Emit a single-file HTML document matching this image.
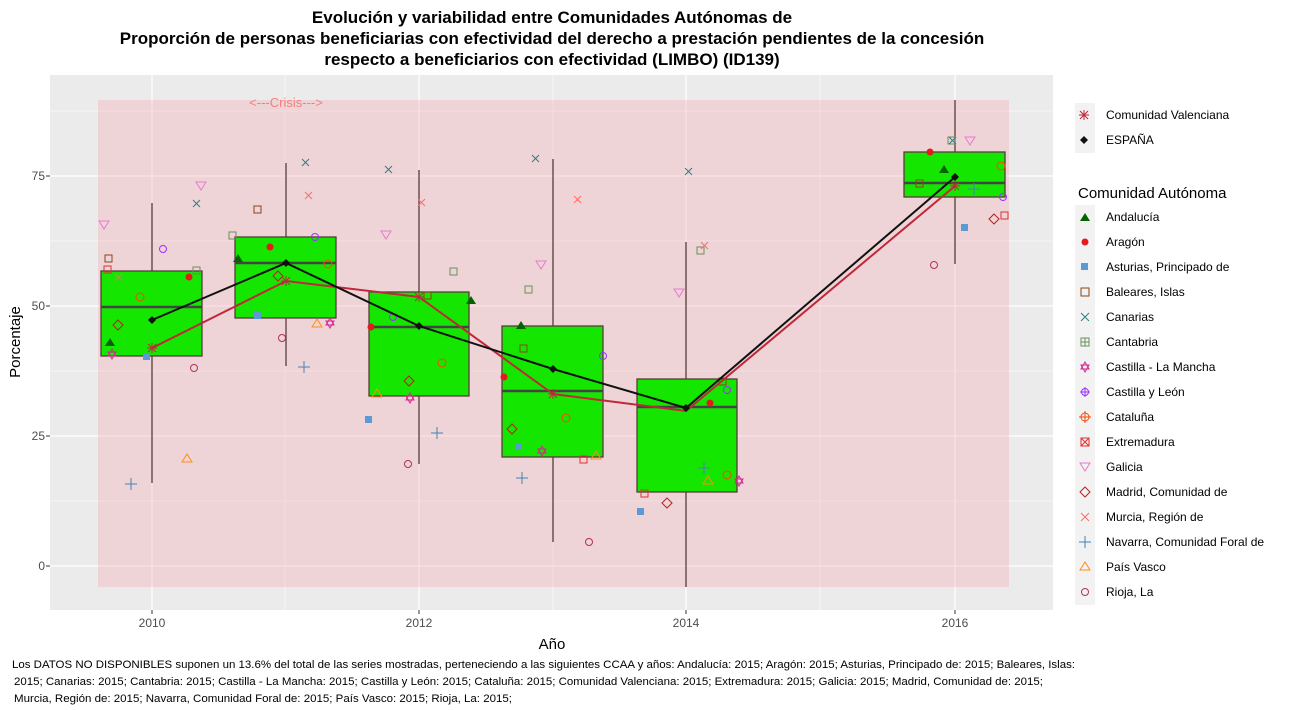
<!DOCTYPE html>
<html><head><meta charset="utf-8"><style>body{margin:0;background:#fff}svg{display:block;font-family:"Liberation Sans",Arial,sans-serif}</style></head><body>
<svg width="1299" height="710" viewBox="0 0 1299 710" xmlns="http://www.w3.org/2000/svg">
<rect width="1299" height="710" fill="#fff"/>
<g font-weight="bold" font-size="17" text-anchor="middle" fill="#000">
<text x="552" y="23">Evolución y variabilidad entre Comunidades Autónomas de</text>
<text x="552" y="44">Proporción de personas beneficiarias con efectividad del derecho a prestación pendientes de la concesión</text>
<text x="552" y="65">respecto a beneficiarios con efectividad (LIMBO) (ID139)</text>
</g>
<rect x="50" y="75" width="1003" height="535" fill="#ebebeb"/>
<g stroke="#fff" stroke-width="0.6">
<line x1="50" x2="1053" y1="501" y2="501"/><line x1="50" x2="1053" y1="371" y2="371"/><line x1="50" x2="1053" y1="241" y2="241"/><line x1="50" x2="1053" y1="111" y2="111"/>
<line y1="75" y2="610" x1="285" x2="285"/><line y1="75" y2="610" x1="553" x2="553"/><line y1="75" y2="610" x1="820" x2="820"/>
</g>
<g stroke="#fff" stroke-width="1.2">
<line x1="50" x2="1053" y1="566" y2="566"/><line x1="50" x2="1053" y1="436" y2="436"/><line x1="50" x2="1053" y1="306" y2="306"/><line x1="50" x2="1053" y1="176" y2="176"/>
<line y1="75" y2="610" x1="152" x2="152"/><line y1="75" y2="610" x1="419" x2="419"/><line y1="75" y2="610" x1="686" x2="686"/><line y1="75" y2="610" x1="955" x2="955"/>
</g>
<rect x="98" y="100" width="911" height="487" fill="#f4a0a8" fill-opacity="0.3"/>
<text x="286" y="107" font-size="13" fill="#f08080" text-anchor="middle">&lt;---Crisis---&gt;</text>
<g stroke="#5a3a3a" stroke-width="1.3">
<line x1="152" x2="152" y1="203" y2="483"/><line x1="286" x2="286" y1="163" y2="366"/>
<line x1="419" x2="419" y1="170" y2="464"/><line x1="553" x2="553" y1="159" y2="542"/>
<line x1="686" x2="686" y1="242" y2="587"/><line x1="955" x2="955" y1="100" y2="264"/>
</g>
<g fill="#15e600" stroke="#5a3a3a" stroke-width="1.3">
<rect x="101" y="271" width="101" height="85"/><rect x="235" y="237" width="101" height="81"/>
<rect x="369" y="292" width="100" height="104"/><rect x="502" y="326" width="101" height="131"/>
<rect x="637" y="379" width="100" height="113"/><rect x="904" y="152" width="101" height="45"/>
</g>
<g stroke="#444" stroke-width="2.5">
<line x1="101" x2="202" y1="307" y2="307"/><line x1="235" x2="336" y1="263" y2="263"/>
<line x1="369" x2="469" y1="327" y2="327"/><line x1="502" x2="603" y1="391" y2="391"/>
<line x1="637" x2="737" y1="407" y2="407"/><line x1="904" x2="1005" y1="183" y2="183"/>
</g>
<g fill="#006400"><path d="M110 338l-5 8h10z"/><path d="M238 254l-5 8h10z"/><path d="M471 296l-5 8h10z"/><path d="M521 321l-5 8h10z"/><path d="M944 165l-5 8h10z"/></g>
<g fill="#e41a1c"><circle cx="189" cy="277" r="3.5"/><circle cx="270" cy="247" r="3.5"/><circle cx="371" cy="327" r="3.5"/><circle cx="504" cy="377" r="3.5"/><circle cx="710" cy="403" r="3.5"/><circle cx="930" cy="152" r="3.5"/></g>
<g fill="#5b9bd5"><rect x="143" y="353" width="7" height="7"/><rect x="254" y="312" width="7" height="7"/><rect x="365" y="416" width="7" height="7"/><rect x="515" y="443" width="7" height="7"/><rect x="637" y="508" width="7" height="7"/><rect x="961" y="224" width="7" height="7"/></g>
<g fill="none" stroke-width="1">
<g stroke="#e879d0"><path d="M99 221l5 8l5-8z"/><path d="M196 182l5 8l5-8z"/><path d="M381 231l5 8l5-8z"/><path d="M536 261l5 8l5-8z"/><path d="M674 289l5 8l5-8z"/><path d="M965 137l5 8l5-8z"/></g>
<g stroke="#ff8c1a"><path d="M187 454l-5 8h10z"/><path d="M317 319l-5 8h10z"/><path d="M377 389l-5 8h10z"/><path d="M596 451l-5 8h10z"/><path d="M708 476l-5 8h10z"/></g>
<g stroke="#b03060"><circle cx="194" cy="368" r="3.5"/><circle cx="282" cy="338" r="3.5"/><circle cx="408" cy="464" r="3.5"/><circle cx="589" cy="542" r="3.5"/><circle cx="934" cy="265" r="3.5"/></g>
<g stroke="#6b8e5a"><rect x="193" y="267" width="7" height="7"/><rect x="229" y="232" width="7" height="7"/><rect x="450" y="268" width="7" height="7"/><rect x="525" y="286" width="7" height="7"/><rect x="697" y="247" width="7" height="7"/><rect x="948" y="137" width="7" height="7"/></g>
<g stroke="#8b4513"><rect x="105" y="255" width="7" height="7"/><rect x="254" y="206" width="7" height="7"/><rect x="424" y="292" width="7" height="7"/><rect x="520" y="345" width="7" height="7"/><rect x="719" y="378" width="7" height="7"/><rect x="916" y="180" width="7" height="7"/></g>
<g stroke="#9b30ff"><circle cx="163" cy="249" r="3.5"/><circle cx="315" cy="237" r="3.5"/><circle cx="393" cy="317" r="3.5"/><circle cx="603" cy="356" r="3.5"/><circle cx="727" cy="390" r="3.5"/><circle cx="1003" cy="197" r="3.5"/></g>
<g stroke="#2f7f7f"><path d="M193 200l7 7m0-7l-7 7"/><path d="M302 159l7 7m0-7l-7 7"/><path d="M385 166l7 7m0-7l-7 7"/><path d="M532 155l7 7m0-7l-7 7"/><path d="M685 168l7 7m0-7l-7 7"/><path d="M949 137l7 7m0-7l-7 7"/></g>
<g stroke="#ff6b6b"><path d="M115 274l7 7m0-7l-7 7"/><path d="M305 192l7 7m0-7l-7 7"/><path d="M418 199l7 7m0-7l-7 7"/><path d="M574 196l7 7m0-7l-7 7"/><path d="M701 242l7 7m0-7l-7 7"/></g>
<g stroke="#4682b4"><path d="M125 484h12m-6-6v12"/><path d="M298 367h12m-6-6v12"/><path d="M431 433h12m-6-6v12"/><path d="M516 478h12m-6-6v12"/><path d="M698 468h12m-6-6v12"/><path d="M968 189h12m-6-6v12"/></g>
<g stroke="#ff4500"><circle cx="140" cy="297" r="4"/><circle cx="328" cy="264" r="4"/><circle cx="442" cy="363" r="4"/><circle cx="566" cy="418" r="4"/><circle cx="727" cy="475" r="4"/><circle cx="1001" cy="166" r="4"/></g>
<g stroke="#d62790"><path d="M112 349l-4 7h8z M112 359l-4-7h8z"/><path d="M330 318l-4 7h8z M330 328l-4-7h8z"/><path d="M410 393l-4 7h8z M410 403l-4-7h8z"/><path d="M542 446l-4 7h8z M542 456l-4-7h8z"/><path d="M739 476l-4 7h8z M739 486l-4-7h8z"/></g>
<g stroke="#b22222"><path d="M118 320l5 5l-5 5l-5-5z"/><path d="M278 271l5 5l-5 5l-5-5z"/><path d="M409 376l5 5l-5 5l-5-5z"/><path d="M512 424l5 5l-5 5l-5-5z"/><path d="M667 498l5 5l-5 5l-5-5z"/><path d="M994 214l5 5l-5 5l-5-5z"/></g>
<g stroke="#e03030"><rect x="104" y="266" width="7" height="7"/><rect x="580" y="456" width="7" height="7"/><rect x="641" y="490" width="7" height="7"/><rect x="1001" y="212" width="7" height="7"/></g>
</g>
<polyline points="152,348 286,281 419,297 553,394 686,411 955,186" fill="none" stroke="#c0283a" stroke-width="2"/>
<polyline points="152,320 286,263 419,326 553,369 686,408 955,177" fill="none" stroke="#111" stroke-width="2"/>
<g fill="#111"><path d="M152 316l4 4l-4 4l-4-4z"/><path d="M286 259l4 4l-4 4l-4-4z"/><path d="M419 322l4 4l-4 4l-4-4z"/><path d="M553 365l4 4l-4 4l-4-4z"/><path d="M686 404l4 4l-4 4l-4-4z"/><path d="M955 173l4 4l-4 4l-4-4z"/></g>
<g stroke="#c0283a" stroke-width="1"><path d="M147 348h10M152 343v10M148 344l8 8M156 344l-8 8"/><path d="M281 281h10M286 276v10M282 277l8 8M290 277l-8 8"/><path d="M414 297h10M419 292v10M415 293l8 8M423 293l-8 8"/><path d="M548 394h10M553 389v10M549 390l8 8M557 390l-8 8"/><path d="M950 186h10M955 181v10M951 182l8 8M959 182l-8 8"/></g>
<g font-size="12" fill="#4d4d4d" text-anchor="end"><text x="45" y="570">0</text><text x="45" y="440">25</text><text x="45" y="310">50</text><text x="45" y="180">75</text></g>
<g stroke="#333"><line x1="46" x2="50" y1="566" y2="566"/><line x1="46" x2="50" y1="436" y2="436"/><line x1="46" x2="50" y1="306" y2="306"/><line x1="46" x2="50" y1="176" y2="176"/>
<line y1="610" y2="614" x1="152" x2="152"/><line y1="610" y2="614" x1="419" x2="419"/><line y1="610" y2="614" x1="686" x2="686"/><line y1="610" y2="614" x1="955" x2="955"/></g>
<g font-size="12" fill="#4d4d4d" text-anchor="middle"><text x="152" y="627">2010</text><text x="419" y="627">2012</text><text x="686" y="627">2014</text><text x="955" y="627">2016</text></g>
<text x="552" y="649" font-size="15" text-anchor="middle">Año</text>
<text transform="translate(20,342) rotate(-90)" font-size="15" text-anchor="middle">Porcentaje</text>
<g font-size="12" fill="#000">
<rect x="1075" y="103" width="20" height="50" fill="#f2f2f2"/>
<path d="M1079 115h10M1084 110v10M1080 111l8 8M1088 111l-8 8" stroke="#c0283a"/><text x="1106" y="119">Comunidad Valenciana</text>
<path d="M1084 136l4 4l-4 4l-4-4z" fill="#111"/><text x="1106" y="144">ESPAÑA</text>
<text x="1078" y="198" font-size="15">Comunidad Autónoma</text>
<rect x="1075" y="205" width="20" height="400" fill="#f2f2f2"/>
<text x="1106" y="221">Andalucía</text><text x="1106" y="246">Aragón</text><text x="1106" y="271">Asturias, Principado de</text><text x="1106" y="296">Baleares, Islas</text><text x="1106" y="321">Canarias</text><text x="1106" y="346">Cantabria</text><text x="1106" y="371">Castilla - La Mancha</text><text x="1106" y="396">Castilla y León</text><text x="1106" y="421">Cataluña</text><text x="1106" y="446">Extremadura</text><text x="1106" y="471">Galicia</text><text x="1106" y="496">Madrid, Comunidad de</text><text x="1106" y="521">Murcia, Región de</text><text x="1106" y="546">Navarra, Comunidad Foral de</text><text x="1106" y="571">País Vasco</text><text x="1106" y="596">Rioja, La</text>
<g fill="none">
<path d="M1085 213l-5 8h10z" fill="#006400"/>
<circle cx="1085" cy="242" r="3.5" fill="#e41a1c"/>
<rect x="1081" y="263" width="7" height="7" fill="#5b9bd5"/>
<rect x="1081" y="288" width="8" height="8" stroke="#8b4513"/>
<path d="M1081 313l8 8m0-8l-8 8" stroke="#2f7f7f"/>
<rect x="1081" y="338" width="8" height="8" stroke="#6b8e5a"/><path d="M1085 338v8M1081 342h8" stroke="#6b8e5a"/>
<path d="M1085 362l-4 7h8zM1085 372l-4-7h8z" stroke="#d62790"/>
<circle cx="1085" cy="392" r="3.5" stroke="#9b30ff"/><path d="M1085 387v10M1080 392h10" stroke="#9b30ff"/>
<circle cx="1085" cy="417" r="4" stroke="#ff4500"/><path d="M1085 411v12M1079 417h12" stroke="#ff4500"/>
<rect x="1081" y="438" width="8" height="8" stroke="#e03030"/><path d="M1081 438l8 8m0-8l-8 8" stroke="#e03030"/>
<path d="M1080 463l5 8l5-8z" stroke="#e879d0"/>
<path d="M1085 487l5 5l-5 5l-5-5z" stroke="#b22222"/>
<path d="M1081 513l8 8m0-8l-8 8" stroke="#ff6b6b"/>
<path d="M1079 542h12M1085 536v12" stroke="#4682b4"/>
<path d="M1085 562l-5 8h10z" stroke="#ff8c1a"/>
<circle cx="1085" cy="592" r="3.5" stroke="#b03060"/>
</g></g>
<g font-size="11.4" fill="#000">
<text x="12" y="668" textLength="1063" lengthAdjust="spacingAndGlyphs">Los DATOS NO DISPONIBLES suponen un 13.6% del total de las series mostradas, perteneciendo a las siguientes CCAA y años: Andalucía: 2015; Aragón: 2015; Asturias, Principado de: 2015; Baleares, Islas:</text>
<text x="14" y="685" textLength="1029" lengthAdjust="spacingAndGlyphs">2015; Canarias: 2015; Cantabria: 2015; Castilla - La Mancha: 2015; Castilla y León: 2015; Cataluña: 2015; Comunidad Valenciana: 2015; Extremadura: 2015; Galicia: 2015; Madrid, Comunidad de: 2015;</text>
<text x="14" y="702" textLength="498" lengthAdjust="spacingAndGlyphs">Murcia, Región de: 2015; Navarra, Comunidad Foral de: 2015; País Vasco: 2015; Rioja, La: 2015;</text>
</g>
</svg>
</body></html>
